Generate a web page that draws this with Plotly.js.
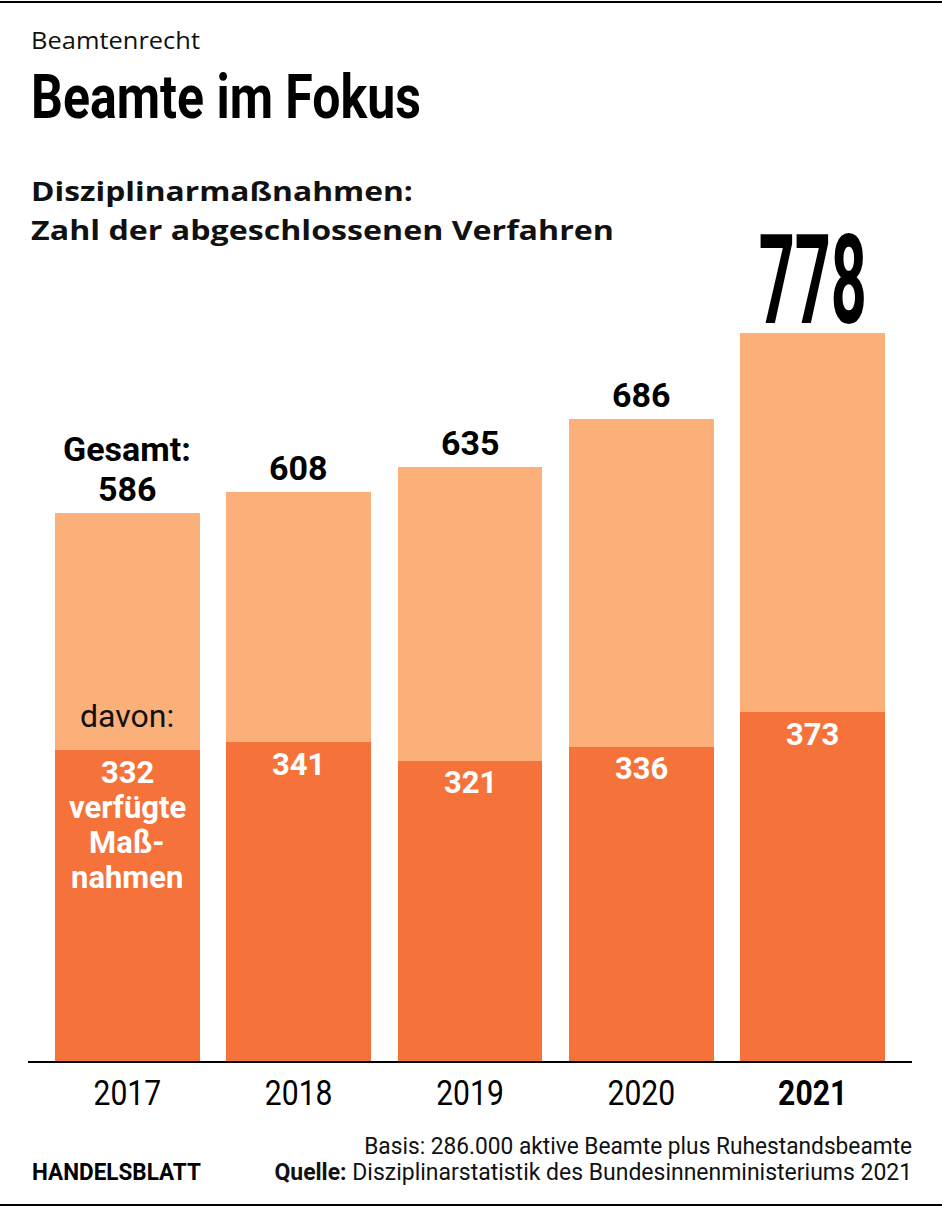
<!DOCTYPE html>
<html>
<head>
<meta charset="utf-8">
<script src="https://cdn.plot.ly/plotly-3.0.1.min.js"></script>
<style>
html,body{margin:0;padding:0;background:#fff;}
#chart{width:942px;height:1208px;}
</style>
</head>
<body>
<div id="chart"></div>
<script>
// Data
const years = ["2017", "2018", "2019", "2020", "2021"];
const yearLabels = ["2017", "2018", "2019", "2020", "<b>2021</b>"];
const totals = [586, 608, 635, 686, 778];
const measures = [332, 341, 321, 336, 373];
const firstMeasureLines = ["verfügte", "Maß-", "nahmen"];
const rest = totals.map((t, i) => t - measures[i]);

// Layout geometry (pixels)
const W = 942, H = 1208;
const L = 28, R = 912, T = 266, B = 1061;
function px(x) { return (x - L) / (R - L); }
function py(y) { return (B - y) / (B - T); }

const darkOrange = "#F5733A";
const lightOrange = "#FBB07A";
const rob = "Roboto, sans-serif";
const opn = "Open Sans, sans-serif";

const xs = years.map((_, i) => i);

const traces = [
  {type: "bar", x: xs, y: measures, marker: {color: darkOrange, line: {width: 0}}, hoverinfo: "skip", showlegend: false},
  {type: "bar", x: xs, y: rest, marker: {color: lightOrange, line: {width: 0}}, hoverinfo: "skip", showlegend: false}
];

const ann = [];
const fits = [];
function add(a, fitWidth, origin) {
  ann.push(Object.assign({showarrow: false}, a));
  if (fitWidth) fits.push({idx: ann.length - 1, w: fitWidth, origin: origin || "left"});
}

// Header
add({xref: "paper", yref: "paper", x: px(29), y: py(40), xanchor: "left", yanchor: "middle",
  text: "Beamtenrecht", font: {family: opn, size: 23, color: "#111"}}, 169, "left");
add({xref: "paper", yref: "paper", x: px(29), y: py(96), xanchor: "left", yanchor: "middle",
  text: "<b>Beamte im Fokus</b>", font: {family: rob, size: 62, color: "#000"}}, 390, "left");
add({xref: "paper", yref: "paper", x: px(29), y: py(190), xanchor: "left", yanchor: "middle",
  text: "<b>Disziplinarmaßnahmen:</b>", font: {family: opn, size: 27, color: "#111"}}, 382, "left");
add({xref: "paper", yref: "paper", x: px(29), y: py(229), xanchor: "left", yanchor: "middle",
  text: "<b>Zahl der abgeschlossenen Verfahren</b>", font: {family: opn, size: 27, color: "#111"}}, 583, "left");

// Totals
totals.forEach((t, i) => {
  if (i === 0) {
    add({x: i, y: t, xref: "x", yref: "y", yanchor: "middle", yshift: 64,
      text: "<b>Gesamt:</b>", font: {family: rob, size: 34, color: "#000"}});
    add({x: i, y: t, xref: "x", yref: "y", yanchor: "middle", yshift: 24,
      text: "<b>" + t + "</b>", font: {family: rob, size: 34, color: "#000"}});
  } else if (i === totals.length - 1) {
    add({x: i, y: t, xref: "x", yref: "y", yanchor: "middle", yshift: 53,
      text: "<b>" + t + "</b>", font: {family: rob, size: 124, color: "#000"}}, 108, "center");
  } else {
    add({x: i, y: t, xref: "x", yref: "y", yanchor: "middle", yshift: 24,
      text: "<b>" + t + "</b>", font: {family: rob, size: 34, color: "#000"}});
  }
});
// Measures
measures.forEach((m, i) => {
  add({x: i, y: m, xref: "x", yref: "y", yanchor: "middle", yshift: -22,
    text: "<b>" + m + "</b>", font: {family: rob, size: 31, color: "#fff"}});
});
firstMeasureLines.forEach((s, k) => {
  add({x: 0, y: measures[0], xref: "x", yref: "y", yanchor: "middle", yshift: -57 - 35 * k,
    text: "<b>" + s + "</b>", font: {family: rob, size: 31, color: "#fff"}});
});
add({x: 0, y: measures[0], xref: "x", yref: "y", yanchor: "middle", yshift: 34,
  text: "davon:", font: {family: rob, size: 32, color: "#111"}});

// Footer
add({xref: "paper", yref: "paper", x: px(30), y: py(1172), xanchor: "left", yanchor: "middle",
  text: "<b>HANDELSBLATT</b>", font: {family: rob, size: 24, color: "#000"}}, 169, "left");
add({xref: "paper", yref: "paper", x: px(914), y: py(1146), xanchor: "right", yanchor: "middle",
  text: "Basis: 286.000 aktive Beamte plus Ruhestandsbeamte", font: {family: rob, size: 24, color: "#111"}}, 548, "right");
add({xref: "paper", yref: "paper", x: px(914), y: py(1172), xanchor: "right", yanchor: "middle",
  text: "<b>Quelle:</b> Disziplinarstatistik des Bundesinnenministeriums 2021", font: {family: rob, size: 24, color: "#111"}}, 638, "right");

const layout = {
  width: W, height: H,
  margin: {l: L, r: W - R, t: T, b: H - B, pad: 0},
  paper_bgcolor: "#fff", plot_bgcolor: "#fff",
  barmode: "stack", bargap: 0.154,
  showlegend: false,
  xaxis: {range: [-0.58, 4.58], tickmode: "array", tickvals: xs, ticktext: yearLabels,
    showline: true, linecolor: "#000", linewidth: 2, showgrid: false, zeroline: false, ticks: "",
    tickfont: {family: rob, size: 35, color: "#000"}, fixedrange: true},
  yaxis: {range: [0, 850], visible: false, showgrid: false, zeroline: false, fixedrange: true},
  annotations: ann,
  shapes: [
    {type: "line", xref: "paper", yref: "paper", x0: px(0), x1: px(942), y0: py(2), y1: py(2), line: {color: "#000", width: 2}},
    {type: "line", xref: "paper", yref: "paper", x0: px(0), x1: px(942), y0: py(1205), y1: py(1205), line: {color: "#000", width: 2}}
  ]
};

function squeeze(el, k, origin) {
  const bb = el.getBBox();
  const ox = origin === "left" ? bb.x : origin === "right" ? bb.x + bb.width : bb.x + bb.width / 2;
  const prev = el.getAttribute("transform") || "";
  el.setAttribute("transform", prev + " translate(" + ox + ",0) scale(" + k + ",1) translate(" + (-ox) + ",0)");
}

Plotly.newPlot("chart", traces, layout, {displayModeBar: false, staticPlot: true}).then(() => {
  fits.forEach(f => {
    const el = document.querySelector('g.annotation[data-index="' + f.idx + '"] text.annotation-text');
    if (!el) return;
    const bb = el.getBBox();
    if (bb.width > 0) squeeze(el, f.w / bb.width, f.origin);
  });
  document.querySelectorAll("g.xtick text").forEach(el => squeeze(el, 0.86, "center"));
});
</script>
</body>
</html>
